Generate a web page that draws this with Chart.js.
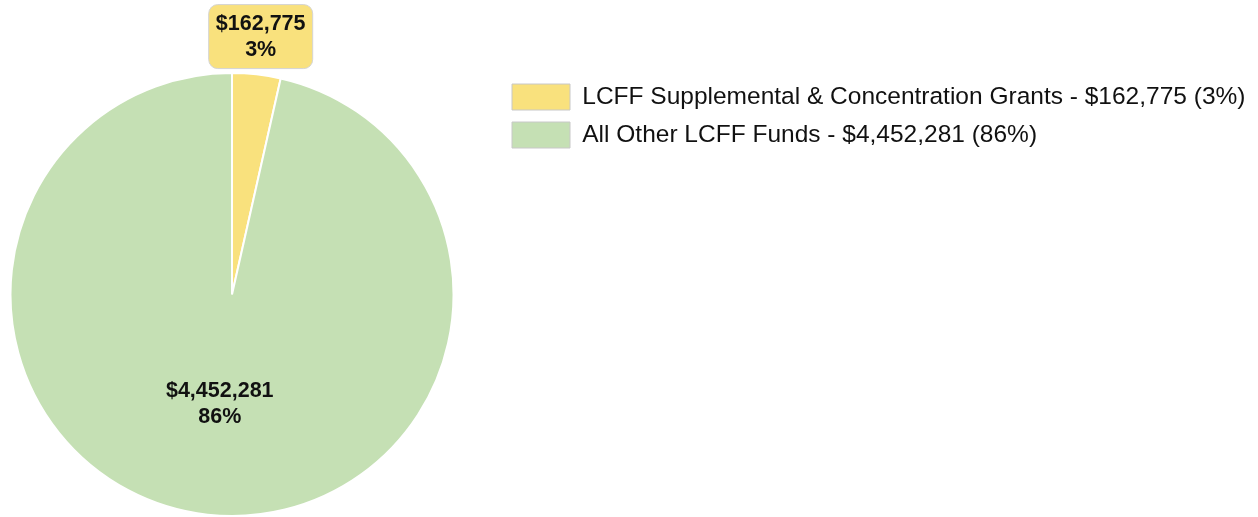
<!DOCTYPE html>
<html>
<head>
<meta charset="utf-8">
<script src="https://cdn.jsdelivr.net/npm/chart.js@4"></script>
<style>
  html, body { margin: 0; padding: 0; background: #fff; overflow: hidden; }
  #pieChart { display: block; margin-left: -36px; }
</style>
</head>
<body>
<canvas id="pieChart" width="1294" height="517"></canvas>
<script>
const fundNames = ['LCFF Supplemental & Concentration Grants', 'All Other LCFF Funds'];
const fundValues = [162775, 4452281];
const fundShares = ['3%', '86%'];
const sliceColors = ['#F9E17D', '#C5E0B4'];

const fontFamily = "'Liberation Sans', Arial, sans-serif";
const money = v => '$' + v.toLocaleString('en-US');

// fixed legend width so the list starts right of the pie
const legendWidth = {
    id: 'legendWidth',
    beforeLayout(chart) {
        const legend = chart.legend;
        if (legend && !legend._fixed) {
            const origFit = legend.fit;
            legend.fit = function() {
                origFit.call(this);
                this.width = 758;
            };
            legend._fixed = true;
        }
    }
};

// value + share labels on the slices
const sliceLabels = {
    id: 'sliceLabels',
    afterDatasetsDraw(chart) {
        const ctx = chart.ctx;
        const meta = chart.getDatasetMeta(0);
        meta.data.forEach((arc, i) => {
            const mid = (arc.startAngle + arc.endAngle) / 2;
            const dist = i === 0 ? arc.outerRadius + 38 : arc.outerRadius * 0.5;
            const x = arc.x + Math.cos(mid) * dist;
            const y = arc.y + Math.sin(mid) * dist;

            ctx.save();
            if (i === 0) {
                ctx.beginPath();
                ctx.roundRect(x - 52, y - 32, 104, 64, 9);
                ctx.fillStyle = sliceColors[0];
                ctx.fill();
                ctx.strokeStyle = '#d4d4d4';
                ctx.lineWidth = 1;
                ctx.stroke();
            }
            ctx.fillStyle = '#111';
            ctx.font = 'bold 21.5px ' + fontFamily;
            ctx.textAlign = 'center';
            ctx.textBaseline = 'middle';
            ctx.fillText(money(fundValues[i]), x, y - 13);
            ctx.fillText(fundShares[i], x, y + 13);
            ctx.restore();
        });
    }
};

new Chart(document.getElementById('pieChart'), {
    type: 'pie',
    data: {
        labels: fundNames,
        datasets: [{
            data: fundValues,
            backgroundColor: sliceColors,
            borderColor: '#ffffff',
            borderWidth: 2
        }]
    },
    options: {
        responsive: false,
        animation: false,
        layout: { padding: { top: 72, right: 0, bottom: 0, left: 0 } },
        plugins: {
            tooltip: { enabled: false },
            legend: {
                position: 'right',
                align: 'start',
                labels: {
                    boxWidth: 58,
                    boxHeight: 26,
                    padding: 12,
                    color: '#111',
                    font: { family: fontFamily, size: 24.5 },
                    generateLabels(chart) {
                        return fundNames.map((name, i) => ({
                            text: name + ' - ' + money(fundValues[i]) + ' (' + fundShares[i] + ')',
                            fillStyle: sliceColors[i],
                            strokeStyle: '#c8c8c8',
                            lineWidth: 1,
                            fontColor: '#111',
                            index: i
                        }));
                    }
                }
            }
        }
    },
    plugins: [legendWidth, sliceLabels]
});
</script>
</body>
</html>
